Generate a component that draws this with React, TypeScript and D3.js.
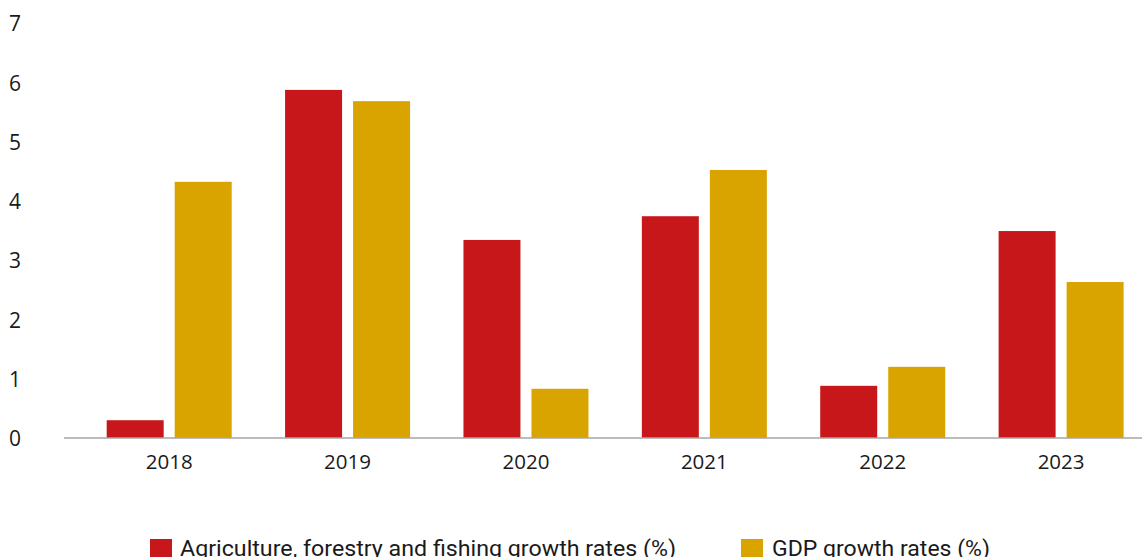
import React from "react";
import * as d3 from "d3";

const years = ["2018", "2019", "2020", "2021", "2022", "2023"];
const agriculture = [0.3, 5.87, 3.34, 3.74, 0.88, 3.49];
const gdp = [4.32, 5.68, 0.83, 4.52, 1.2, 2.63];
const yTicks = [0, 1, 2, 3, 4, 5, 6, 7];
const seriesNames = ["Agriculture, forestry and fishing growth rates (%)", "GDP growth rates (%)"];
const colors = ["#C8171A", "#D9A300"];

const W = 1142;
const H = 557;

export default function App() {
  const x = d3.scaleBand<string>().domain(years).range([80, 1150.3]).paddingInner(0).paddingOuter(0);
  const bw = x.bandwidth();
  const inner = d3
    .scaleBand<string>()
    .domain(["a", "g"])
    .range([bw / 2 - 62.5, bw / 2 + 62.5])
    .paddingInner(0.162)
    .paddingOuter(0);
  const y = d3.scaleLinear().domain([0, 7]).range([438, 438 - 7 * 59.3]);

  const series = [agriculture, gdp];
  const keys = ["a", "g"];
  const font = "'Open Sans', 'Noto Sans', sans-serif";

  return (
    <svg
      width={W}
      height={H}
      style={{ position: "absolute", left: 0, top: 0, background: "#fff" }}
      fontFamily={font}
    >
      {yTicks.map((t) => (
        <text key={t} x={9} y={y(t) + 1} dy="0.35em" fontSize={21} fill="#1a1a1a">
          {t}
        </text>
      ))}
      {years.map((yr, i) => (
        <g key={yr} transform={`translate(${x(yr)},0)`}>
          {series.map((s, si) => (
            <rect
              key={si}
              x={inner(keys[si])}
              width={inner.bandwidth()}
              y={y(s[i])}
              height={y(0) - y(s[i])}
              fill={colors[si]}
            />
          ))}
          <text x={bw / 2} y={469} textAnchor="middle" fontSize={20.5} fill="#1a1a1a">
            {yr}
          </text>
        </g>
      ))}
      <line x1={64} x2={1142} y1={y(0)} y2={y(0)} stroke="#a6a6a6" strokeWidth={1.5} />
      <g>
        <rect x={150} y={539} width={22} height={22} fill={colors[0]} />
        <text
          x={180}
          y={556}
          fontSize={22}
          fill="#1a1a1a"
          textLength={496}
          lengthAdjust="spacingAndGlyphs"
          fontFamily="'Liberation Sans Narrow', 'Roboto', sans-serif"
        >
          {seriesNames[0]}
        </text>
        <rect x={741} y={539} width={22} height={22} fill={colors[1]} />
        <text
          x={772}
          y={556}
          fontSize={22}
          fill="#1a1a1a"
          textLength={218}
          lengthAdjust="spacingAndGlyphs"
          fontFamily="'Liberation Sans Narrow', 'Roboto', sans-serif"
        >
          {seriesNames[1]}
        </text>
      </g>
    </svg>
  );
}
